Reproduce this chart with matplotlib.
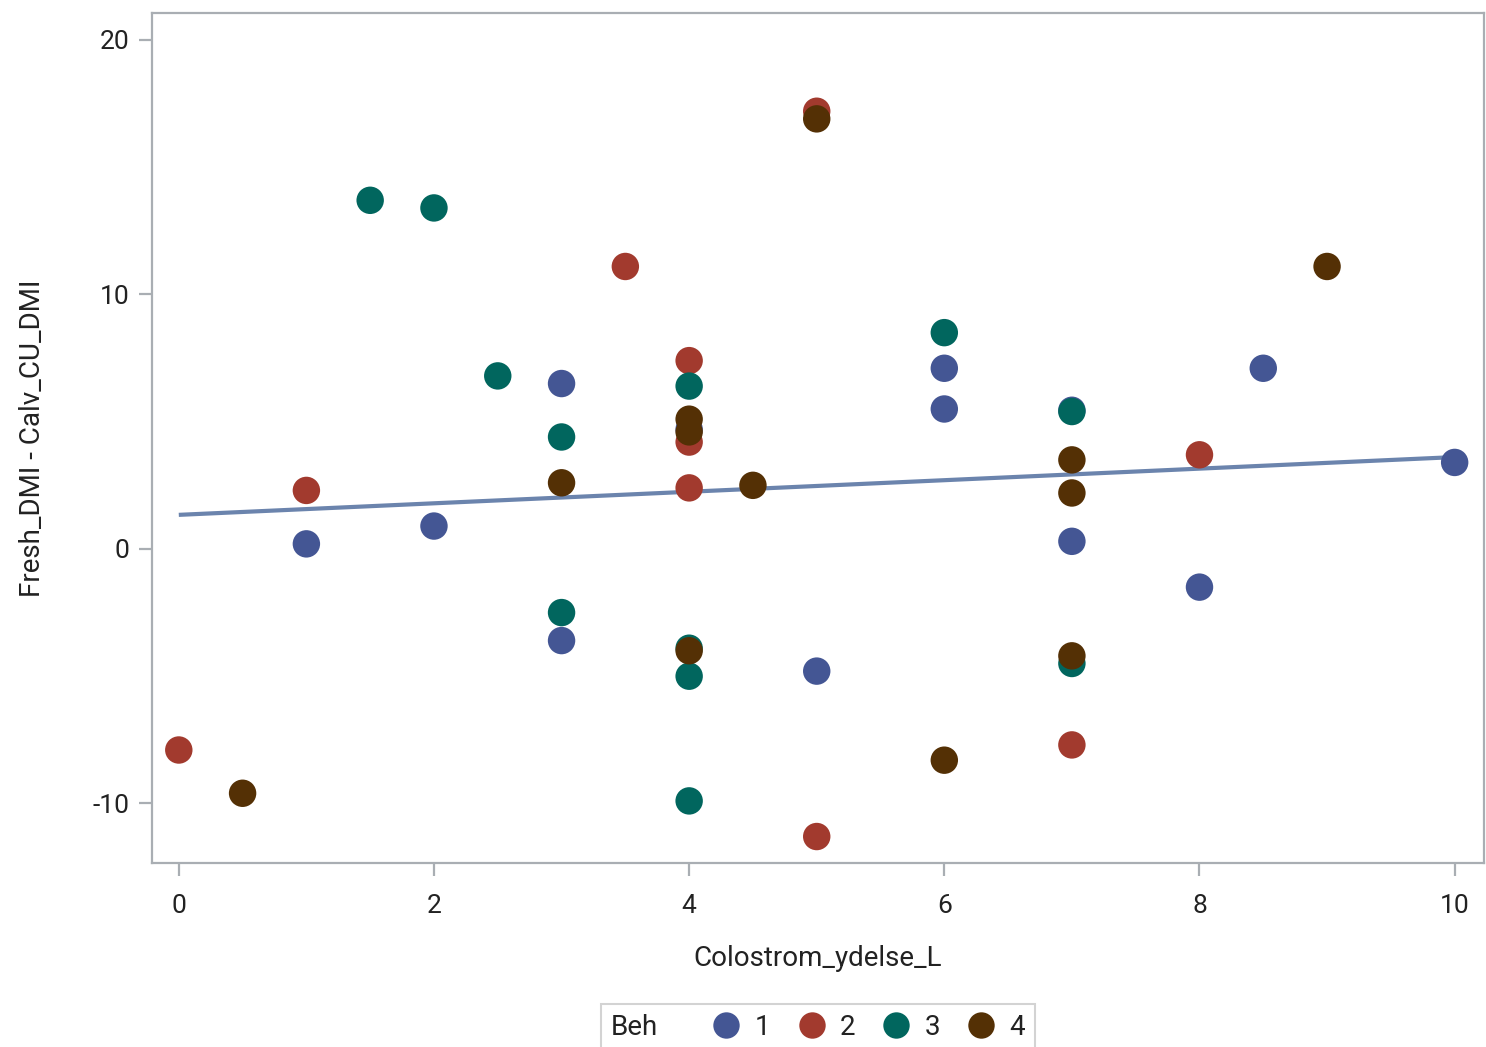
import numpy as np
import matplotlib
matplotlib.use("Agg")
import matplotlib.pyplot as plt
from matplotlib.lines import Line2D
from matplotlib.offsetbox import HPacker

plt.rcParams['font.family'] = ['Roboto', 'DejaVu Sans']
plt.rcParams['axes.unicode_minus'] = False

groups = ['1', '2', '3', '4']
colors = ['#445694', '#A23A2E', '#01665E', '#543005']

x1 = [1, 2, 3, 3, 4, 5, 6, 6, 7, 7, 8, 8.5, 10]
y1 = [0.2, 0.9, 6.5, -3.6, 4.7, -4.8, 7.1, 5.5, 0.3, 5.45, -1.5, 7.1, 3.4]

x2 = [0, 1, 3.5, 4, 4, 4, 5, 5, 7, 8]
y2 = [-7.9, 2.3, 11.1, 7.4, 4.2, 2.4, 17.2, -11.3, -7.7, 3.7]

x3 = [1.5, 2, 2.5, 3, 3, 4, 4, 4, 4, 6, 7, 7]
y3 = [13.7, 13.4, 6.8, 4.4, -2.5, 6.4, -3.9, -5.0, -9.9, 8.5, 5.4, -4.5]

x4 = [0.5, 3, 4, 4, 4, 4.5, 5, 6, 7, 7, 7, 9]
y4 = [-9.6, 2.6, 5.1, 4.6, -4.0, 2.5, 16.9, -8.3, 3.5, 2.2, -4.2, 11.1]

# regression fit line
fit_intercept = 1.34
fit_slope = 0.227

xs = [x1, x2, x3, x4]
ys = [y1, y2, y3, y4]

xticks = [0, 2, 4, 6, 8, 10]
yticks = [-10, 0, 10, 20]

TXT = '#222222'
GRAY = '#A9AEB3'

fig = plt.figure(figsize=(14.86, 10.47), dpi=100)
ax = fig.add_axes([152/1486, 184/1047, (1484-152)/1486, (863-13)/1047])

allx = np.concatenate([np.array(v, float) for v in xs])
lx = np.array([allx.min(), allx.max()])
ax.plot(lx, fit_intercept + fit_slope * lx, color='#6B84AD', lw=3, zorder=1,
        solid_capstyle='butt')

for g, c, xv, yv in zip(groups, colors, xs, ys):
    ax.scatter(xv, yv, s=390, color=c, edgecolors='none', zorder=2, label=g)

ax.set_xlim(-0.21, 10.23)
ax.set_ylim(-12.34, 21.06)
ax.set_xticks(xticks)
ax.set_yticks(yticks)
ax.tick_params(direction='out', length=9.5, width=1.6, color=GRAY,
               labelsize=19, labelcolor=TXT)
ax.tick_params(axis='x', pad=13)
ax.tick_params(axis='y', pad=7)
for sp in ax.spines.values():
    sp.set_color(GRAY)
    sp.set_linewidth(1.6)
ax.set_xlabel('Colostrom_ydelse_L', fontsize=20, color=TXT, labelpad=19)
ax.set_ylabel('Fresh_DMI - Calv_CU_DMI', fontsize=20, color=TXT, labelpad=33)

handles = [Line2D([], [], ls='none', marker='o', markersize=19, color=c, markeredgewidth=0)
           for c in colors]
leg = fig.legend(handles, groups, title='Beh', ncol=4, loc='upper center',
                 bbox_to_anchor=(818/1486, 1 - 990/1047), frameon=True,
                 fontsize=20, title_fontsize=20, handletextpad=0.35, columnspacing=0.85,
                 handlelength=1.3, borderpad=0.35, fancybox=False, edgecolor='#C8C8C8',
                 labelcolor=TXT)
leg.get_title().set_color(TXT)
leg.get_frame().set_linewidth(1.5)
old = leg._legend_box
newbox = HPacker(pad=old.pad, sep=36, align='center',
                 children=[leg._legend_title_box, leg._legend_handle_box])
newbox.set_figure(fig)
newbox.set_offset(leg._findoffset)
leg._legend_box = newbox

fig.savefig('out.png', dpi=100)
